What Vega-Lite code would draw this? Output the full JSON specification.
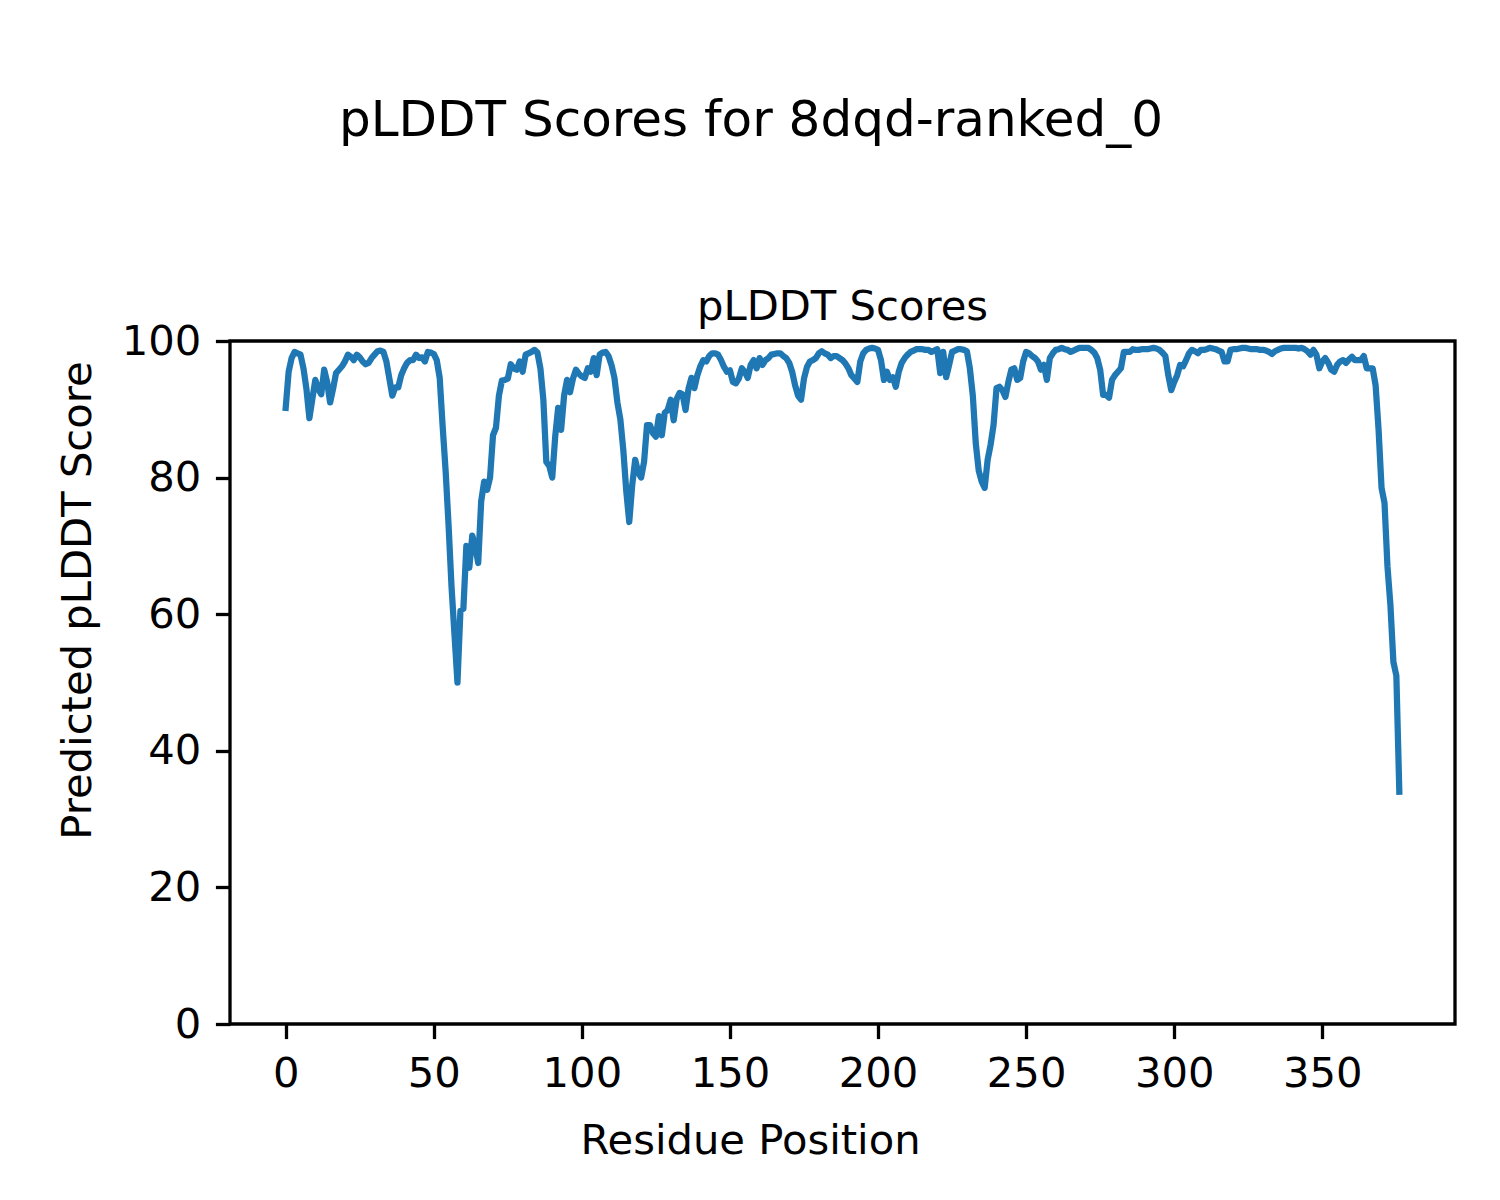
{
  "$schema": "https://vega.github.io/schema/vega-lite/v6.json",
  "background": "white",
  "padding": {"left": 55, "top": 95, "right": 45, "bottom": 30},
  "title": {"text": "pLDDT Scores for 8dqd-ranked_0", "fontSize": 50, "font": "DejaVu Sans", "fontWeight": "normal", "color": "black", "anchor": "middle", "offset": 140, "dx": -5},
  "config": {
    "font": "DejaVu Sans",
    "view": {"stroke": "black", "strokeWidth": 3.3},
    "axis": {
      "labelFont": "DejaVu Sans", "labelFontSize": 41.7, "labelColor": "black",
      "titleFont": "DejaVu Sans", "titleFontSize": 41.7, "titleFontWeight": "normal", "titleColor": "black",
      "tickSize": 14.6, "tickWidth": 3.3, "tickColor": "black", "labelPadding": 14.6,
      "domain": false, "grid": false
    }
  },
  "vconcat": [
    {
      "width": 1225,
      "height": 683,
      "title": {"text": "pLDDT Scores", "fontSize": 41.7, "font": "DejaVu Sans", "fontWeight": "normal", "color": "black", "anchor": "middle", "frame": "group", "baseline": "alphabetic", "offset": -41},
      "data": {"values": [
        {"residue":0,"plddt":90.2},{"residue":1,"plddt":95.5},{"residue":2,"plddt":97.5},{"residue":3,"plddt":98.4},{"residue":4,"plddt":98.2},{"residue":5,"plddt":98},{"residue":6,"plddt":96},{"residue":7,"plddt":93},{"residue":8,"plddt":88.7},{"residue":9,"plddt":91.5},
        {"residue":10,"plddt":94.3},{"residue":11,"plddt":93},{"residue":12,"plddt":92.2},{"residue":13,"plddt":95.8},{"residue":14,"plddt":94},{"residue":15,"plddt":91},{"residue":16,"plddt":93},{"residue":17,"plddt":95.3},{"residue":18,"plddt":95.8},{"residue":19,"plddt":96.3},
        {"residue":20,"plddt":97},{"residue":21,"plddt":98},{"residue":22,"plddt":97.7},{"residue":23,"plddt":97.2},{"residue":24,"plddt":98},{"residue":25,"plddt":97.6},{"residue":26,"plddt":97},{"residue":27,"plddt":96.6},{"residue":28,"plddt":96.8},{"residue":29,"plddt":97.5},
        {"residue":30,"plddt":98},{"residue":31,"plddt":98.5},{"residue":32,"plddt":98.6},{"residue":33,"plddt":98.4},{"residue":34,"plddt":97},{"residue":35,"plddt":94.5},{"residue":36,"plddt":92},{"residue":37,"plddt":93.2},{"residue":38,"plddt":93.2},{"residue":39,"plddt":95},
        {"residue":40,"plddt":96},{"residue":41,"plddt":96.8},{"residue":42,"plddt":97.2},{"residue":43,"plddt":97.2},{"residue":44,"plddt":98},{"residue":45,"plddt":97.5},{"residue":46,"plddt":97.6},{"residue":47,"plddt":97},{"residue":48,"plddt":98.4},{"residue":49,"plddt":98.3},
        {"residue":50,"plddt":98.1},{"residue":51,"plddt":97.2},{"residue":52,"plddt":94.6},{"residue":53,"plddt":87.5},{"residue":54,"plddt":81},{"residue":55,"plddt":73},{"residue":56,"plddt":64},{"residue":57,"plddt":57},{"residue":58,"plddt":50},{"residue":59,"plddt":60.5},
        {"residue":60,"plddt":60.8},{"residue":61,"plddt":70},{"residue":62,"plddt":66.8},{"residue":63,"plddt":71.5},{"residue":64,"plddt":70},{"residue":65,"plddt":67.5},{"residue":66,"plddt":76.5},{"residue":67,"plddt":79.4},{"residue":68,"plddt":78.2},{"residue":69,"plddt":80},
        {"residue":70,"plddt":86.2},{"residue":71,"plddt":87.3},{"residue":72,"plddt":92},{"residue":73,"plddt":94.2},{"residue":74,"plddt":94.3},{"residue":75,"plddt":94.5},{"residue":76,"plddt":96.6},{"residue":77,"plddt":96},{"residue":78,"plddt":95.8},{"residue":79,"plddt":97},
        {"residue":80,"plddt":95.5},{"residue":81,"plddt":98},{"residue":82,"plddt":98.2},{"residue":83,"plddt":98.4},{"residue":84,"plddt":98.7},{"residue":85,"plddt":98.3},{"residue":86,"plddt":96},{"residue":87,"plddt":91.4},{"residue":88,"plddt":82.3},{"residue":89,"plddt":81.7},
        {"residue":90,"plddt":80},{"residue":91,"plddt":86},{"residue":92,"plddt":90.2},{"residue":93,"plddt":87},{"residue":94,"plddt":92},{"residue":95,"plddt":94.3},{"residue":96,"plddt":92.5},{"residue":97,"plddt":94.5},{"residue":98,"plddt":95.8},{"residue":99,"plddt":95.2},
        {"residue":100,"plddt":94.8},{"residue":101,"plddt":94.6},{"residue":102,"plddt":96},{"residue":103,"plddt":95.5},{"residue":104,"plddt":97.5},{"residue":105,"plddt":95},{"residue":106,"plddt":98},{"residue":107,"plddt":98.3},{"residue":108,"plddt":98.4},{"residue":109,"plddt":97.8},
        {"residue":110,"plddt":96.5},{"residue":111,"plddt":94.6},{"residue":112,"plddt":91},{"residue":113,"plddt":88.5},{"residue":114,"plddt":84},{"residue":115,"plddt":78},{"residue":116,"plddt":73.5},{"residue":117,"plddt":78.9},{"residue":118,"plddt":82.6},{"residue":119,"plddt":80.8},
        {"residue":120,"plddt":80},{"residue":121,"plddt":82.3},{"residue":122,"plddt":87.7},{"residue":123,"plddt":87.7},{"residue":124,"plddt":86.5},{"residue":125,"plddt":86},{"residue":126,"plddt":89},{"residue":127,"plddt":86.2},{"residue":128,"plddt":89.5},{"residue":129,"plddt":89.9},
        {"residue":130,"plddt":91.4},{"residue":131,"plddt":88.4},{"residue":132,"plddt":91.5},{"residue":133,"plddt":92.4},{"residue":134,"plddt":92.2},{"residue":135,"plddt":89.9},{"residue":136,"plddt":93},{"residue":137,"plddt":94.6},{"residue":138,"plddt":93.1},{"residue":139,"plddt":95},
        {"residue":140,"plddt":96.3},{"residue":141,"plddt":97.2},{"residue":142,"plddt":97},{"residue":143,"plddt":97.8},{"residue":144,"plddt":98.2},{"residue":145,"plddt":98.2},{"residue":146,"plddt":98},{"residue":147,"plddt":97.2},{"residue":148,"plddt":96.2},{"residue":149,"plddt":95.5},
        {"residue":150,"plddt":95.7},{"residue":151,"plddt":94},{"residue":152,"plddt":93.8},{"residue":153,"plddt":94.5},{"residue":154,"plddt":96},{"residue":155,"plddt":95.5},{"residue":156,"plddt":94.6},{"residue":157,"plddt":96.5},{"residue":158,"plddt":97.2},{"residue":159,"plddt":96},
        {"residue":160,"plddt":97.5},{"residue":161,"plddt":96.5},{"residue":162,"plddt":97.2},{"residue":163,"plddt":97.5},{"residue":164,"plddt":98},{"residue":165,"plddt":98.1},{"residue":166,"plddt":98.2},{"residue":167,"plddt":98.2},{"residue":168,"plddt":97.8},{"residue":169,"plddt":97.5},
        {"residue":170,"plddt":96.8},{"residue":171,"plddt":95.5},{"residue":172,"plddt":93.5},{"residue":173,"plddt":92},{"residue":174,"plddt":91.4},{"residue":175,"plddt":94.5},{"residue":176,"plddt":96.2},{"residue":177,"plddt":97},{"residue":178,"plddt":97.2},{"residue":179,"plddt":97.5},
        {"residue":180,"plddt":98.2},{"residue":181,"plddt":98.5},{"residue":182,"plddt":98.2},{"residue":183,"plddt":98},{"residue":184,"plddt":97.5},{"residue":185,"plddt":97.8},{"residue":186,"plddt":97.8},{"residue":187,"plddt":97.5},{"residue":188,"plddt":97.2},{"residue":189,"plddt":96.7},
        {"residue":190,"plddt":96},{"residue":191,"plddt":95},{"residue":192,"plddt":94.5},{"residue":193,"plddt":94},{"residue":194,"plddt":97},{"residue":195,"plddt":98.2},{"residue":196,"plddt":98.7},{"residue":197,"plddt":98.9},{"residue":198,"plddt":99},{"residue":199,"plddt":98.9},
        {"residue":200,"plddt":98.7},{"residue":201,"plddt":97.2},{"residue":202,"plddt":94.3},{"residue":203,"plddt":95.5},{"residue":204,"plddt":94.3},{"residue":205,"plddt":94.7},{"residue":206,"plddt":93.3},{"residue":207,"plddt":95.5},{"residue":208,"plddt":96.8},{"residue":209,"plddt":97.5},
        {"residue":210,"plddt":98},{"residue":211,"plddt":98.4},{"residue":212,"plddt":98.6},{"residue":213,"plddt":98.8},{"residue":214,"plddt":98.8},{"residue":215,"plddt":98.8},{"residue":216,"plddt":98.7},{"residue":217,"plddt":98.7},{"residue":218,"plddt":98.4},{"residue":219,"plddt":98.6},
        {"residue":220,"plddt":98.8},{"residue":221,"plddt":95.3},{"residue":222,"plddt":98.4},{"residue":223,"plddt":94.7},{"residue":224,"plddt":96.5},{"residue":225,"plddt":98.4},{"residue":226,"plddt":98.6},{"residue":227,"plddt":98.8},{"residue":228,"plddt":98.8},{"residue":229,"plddt":98.7},
        {"residue":230,"plddt":98.5},{"residue":231,"plddt":96},{"residue":232,"plddt":92},{"residue":233,"plddt":85},{"residue":234,"plddt":81},{"residue":235,"plddt":79.4},{"residue":236,"plddt":78.5},{"residue":237,"plddt":82.6},{"residue":238,"plddt":84.8},{"residue":239,"plddt":87.7},
        {"residue":240,"plddt":93.1},{"residue":241,"plddt":93.3},{"residue":242,"plddt":92.8},{"residue":243,"plddt":91.8},{"residue":244,"plddt":94},{"residue":245,"plddt":95.8},{"residue":246,"plddt":96},{"residue":247,"plddt":94.3},{"residue":248,"plddt":94.6},{"residue":249,"plddt":97},
        {"residue":250,"plddt":98.4},{"residue":251,"plddt":98.2},{"residue":252,"plddt":97.8},{"residue":253,"plddt":97.5},{"residue":254,"plddt":97},{"residue":255,"plddt":95.8},{"residue":256,"plddt":96.5},{"residue":257,"plddt":94.3},{"residue":258,"plddt":97.5},{"residue":259,"plddt":98.2},
        {"residue":260,"plddt":98.7},{"residue":261,"plddt":98.8},{"residue":262,"plddt":99},{"residue":263,"plddt":98.8},{"residue":264,"plddt":98.7},{"residue":265,"plddt":98.4},{"residue":266,"plddt":98.6},{"residue":267,"plddt":98.8},{"residue":268,"plddt":99},{"residue":269,"plddt":99},
        {"residue":270,"plddt":99},{"residue":271,"plddt":99},{"residue":272,"plddt":98.7},{"residue":273,"plddt":98.3},{"residue":274,"plddt":97.5},{"residue":275,"plddt":95.8},{"residue":276,"plddt":92.1},{"residue":277,"plddt":92.1},{"residue":278,"plddt":91.7},{"residue":279,"plddt":94.3},
        {"residue":280,"plddt":95},{"residue":281,"plddt":95.5},{"residue":282,"plddt":96},{"residue":283,"plddt":98.4},{"residue":284,"plddt":98.4},{"residue":285,"plddt":98.4},{"residue":286,"plddt":98.8},{"residue":287,"plddt":98.7},{"residue":288,"plddt":98.7},{"residue":289,"plddt":98.8},
        {"residue":290,"plddt":98.8},{"residue":291,"plddt":98.8},{"residue":292,"plddt":98.9},{"residue":293,"plddt":99},{"residue":294,"plddt":98.9},{"residue":295,"plddt":98.7},{"residue":296,"plddt":98.3},{"residue":297,"plddt":97.8},{"residue":298,"plddt":95},{"residue":299,"plddt":92.8},
        {"residue":300,"plddt":94},{"residue":301,"plddt":95},{"residue":302,"plddt":96.5},{"residue":303,"plddt":96.3},{"residue":304,"plddt":97.2},{"residue":305,"plddt":98.2},{"residue":306,"plddt":98.7},{"residue":307,"plddt":98.5},{"residue":308,"plddt":98.2},{"residue":309,"plddt":98.7},
        {"residue":310,"plddt":98.7},{"residue":311,"plddt":98.8},{"residue":312,"plddt":99},{"residue":313,"plddt":98.9},{"residue":314,"plddt":98.8},{"residue":315,"plddt":98.6},{"residue":316,"plddt":98.4},{"residue":317,"plddt":97},{"residue":318,"plddt":97},{"residue":319,"plddt":98.7},
        {"residue":320,"plddt":98.8},{"residue":321,"plddt":98.8},{"residue":322,"plddt":98.9},{"residue":323,"plddt":99},{"residue":324,"plddt":99},{"residue":325,"plddt":98.9},{"residue":326,"plddt":98.8},{"residue":327,"plddt":98.8},{"residue":328,"plddt":98.8},{"residue":329,"plddt":98.7},
        {"residue":330,"plddt":98.7},{"residue":331,"plddt":98.6},{"residue":332,"plddt":98.4},{"residue":333,"plddt":98.1},{"residue":334,"plddt":98.5},{"residue":335,"plddt":98.7},{"residue":336,"plddt":98.9},{"residue":337,"plddt":99},{"residue":338,"plddt":99},{"residue":339,"plddt":99},
        {"residue":340,"plddt":99},{"residue":341,"plddt":99},{"residue":342,"plddt":98.9},{"residue":343,"plddt":99},{"residue":344,"plddt":98.8},{"residue":345,"plddt":98.5},{"residue":346,"plddt":98},{"residue":347,"plddt":98.7},{"residue":348,"plddt":98},{"residue":349,"plddt":96},
        {"residue":350,"plddt":97},{"residue":351,"plddt":97.5},{"residue":352,"plddt":96.8},{"residue":353,"plddt":95.8},{"residue":354,"plddt":95.5},{"residue":355,"plddt":96.5},{"residue":356,"plddt":97},{"residue":357,"plddt":97.2},{"residue":358,"plddt":96.8},{"residue":359,"plddt":97.3},
        {"residue":360,"plddt":97.7},{"residue":361,"plddt":97.2},{"residue":362,"plddt":97.2},{"residue":363,"plddt":97.2},{"residue":364,"plddt":97.8},{"residue":365,"plddt":96},{"residue":366,"plddt":96},{"residue":367,"plddt":96},{"residue":368,"plddt":93.5},{"residue":369,"plddt":87},
        {"residue":370,"plddt":78.5},{"residue":371,"plddt":76.3},{"residue":372,"plddt":67},{"residue":373,"plddt":61.3},{"residue":374,"plddt":53},{"residue":375,"plddt":51},{"residue":376,"plddt":34}
      ]},
      "mark": {"type": "line", "color": "#1f77b4", "strokeWidth": 6.25, "strokeJoin": "round", "strokeCap": "square"},
      "encoding": {
        "x": {"field": "residue", "type": "quantitative",
              "scale": {"domain": [-18.8, 394.8], "nice": false, "zero": false},
              "axis": {"values": [0, 50, 100, 150, 200, 250, 300, 350], "title": "Residue Position",
                       "titleX": 520, "titleY": 129, "titleBaseline": "alphabetic", "titleAlign": "center"}},
        "y": {"field": "plddt", "type": "quantitative",
              "scale": {"domain": [0, 100], "nice": false, "zero": true},
              "axis": {"values": [0, 20, 40, 60, 80, 100], "title": "Predicted pLDDT Score",
                       "titleX": -140, "titleY": 259, "titleAngle": 270, "titleBaseline": "alphabetic", "titleAlign": "center"}}
      }
    }
  ]
}
